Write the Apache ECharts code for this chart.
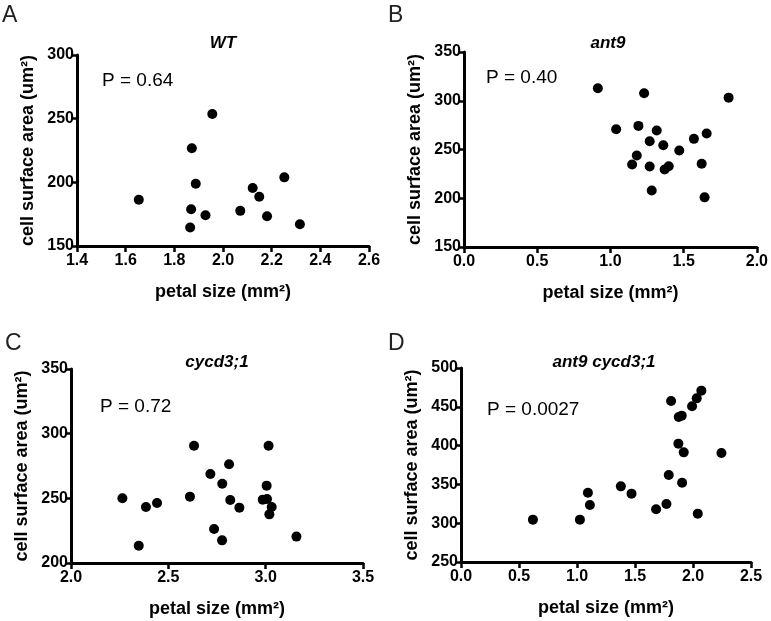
<!DOCTYPE html>
<html>
<head>
<meta charset="utf-8">
<script src="https://cdn.jsdelivr.net/npm/echarts@6/dist/echarts.min.js"></script>
<style>
  html, body { margin: 0; padding: 0; background: #fff; }
  #main { width: 771px; height: 621px; }
</style>
</head>
<body>
<div id="main"></div>
<script>
// petal size (mm2) vs cell surface area (um2), one pair of arrays per genotype
const wtPetal = [1.654, 1.872, 1.956, 1.888, 1.869, 1.928, 1.865, 2.071, 2.122, 2.149, 2.181, 2.252, 2.316]
const wtCell = [186.3, 226.8, 253.7, 198.9, 178.9, 174.2, 164.5, 177.6, 195.5, 188.7, 173.4, 203.9, 167.1]

const ant9Petal = [0.914, 1.230, 1.807, 1.039, 1.191, 1.316, 1.268, 1.361, 1.470, 1.570, 1.657, 1.180, 1.148, 1.268, 1.370, 1.398, 1.623, 1.282, 1.643]
const ant9Cell = [312.8, 307.7, 303.2, 270.8, 274.2, 269.5, 258.5, 254.4, 249.0, 260.9, 266.4, 243.9, 234.6, 232.6, 229.5, 232.9, 235.3, 208.0, 200.9]

const cycPetal = [2.264, 2.385, 2.442, 2.348, 2.611, 2.632, 2.716, 2.812, 2.777, 2.818, 2.865, 2.735, 2.776, 3.015, 3.005, 2.985, 3.007, 3.031, 3.019, 3.158]
const cycCell = [250.0, 243.3, 246.4, 213.4, 251.3, 290.7, 268.8, 276.3, 261.3, 248.7, 242.8, 226.3, 217.5, 290.7, 259.8, 249.0, 249.5, 243.3, 237.6, 220.4]

const dblPetal = [0.620, 1.025, 1.094, 1.111, 1.378, 1.470, 1.682, 1.771, 1.791, 1.906, 2.041, 1.874, 1.920, 2.245, 1.877, 1.903, 1.811, 1.992, 2.032, 2.072]
const dblCell = [304.6, 304.6, 339.3, 323.5, 347.5, 338.1, 317.9, 324.7, 362.1, 352.2, 312.3, 402.5, 391.3, 390.5, 436.9, 438.6, 457.5, 450.6, 460.9, 470.8]

const panelLetters = ['A', 'B', 'C', 'D']
const panelTitles = ['WT', 'ant9', 'cycd3;1', 'ant9 cycd3;1']
const pValues = ['P = 0.64', 'P = 0.40', 'P = 0.72', 'P = 0.0027']

const xRanges = [[1.4, 2.6, 0.2], [0, 2, 0.5], [2, 3.5, 0.5], [0, 2.5, 0.5]]
const yRanges = [[150, 300, 50], [150, 350, 50], [200, 350, 50], [250, 500, 50]]

const pairs = (xs, ys) => xs.map((x, i) => [x, ys[i]])
const seriesData = [
  pairs(wtPetal, wtCell),
  pairs(ant9Petal, ant9Cell),
  pairs(cycPetal, cycCell),
  pairs(dblPetal, dblCell)
]

const font = 'Liberation Sans, Arial, sans-serif'
const grids = [
  { left: 77, top: 55, width: 292, height: 191 },
  { left: 464, top: 52, width: 293, height: 195 },
  { left: 71, top: 369, width: 292, height: 194 },
  { left: 461, top: 368, width: 290, height: 194 }
]
// where the letter, title and P value sit for each panel
const letterPos = [[2, 4], [388, 4], [5, 332], [388, 332]]
const titlePos = [[223, 43], [608, 43], [217, 362], [604, 362]]
const pPos = [[102, 81], [486, 78], [100, 407], [487, 410]]

const axisLine = { lineStyle: { color: '#000', width: 3 } }
const axisTick = { length: 6, lineStyle: { color: '#000', width: 2.5 } }

const chart = echarts.init(document.getElementById('main'))

const graphic = []
for (let i = 0; i < 4; i++) {
  graphic.push({
    type: 'text', left: letterPos[i][0], top: letterPos[i][1],
    style: { text: panelLetters[i], font: '23px ' + font, fill: '#222' }
  })
  graphic.push({
    type: 'text', x: titlePos[i][0], y: titlePos[i][1],
    style: { text: panelTitles[i], font: 'italic bold 17px ' + font, fill: '#000', align: 'center', verticalAlign: 'middle' }
  })
  graphic.push({
    type: 'text', x: pPos[i][0], y: pPos[i][1],
    style: { text: pValues[i], font: '19px ' + font, fill: '#000', align: 'left', verticalAlign: 'middle' }
  })
}

chart.setOption({
  animation: false,
  backgroundColor: '#fff',
  grid: grids,
  xAxis: xRanges.map((r, i) => ({
    type: 'value',
    gridIndex: i,
    min: r[0],
    max: r[1],
    interval: r[2],
    name: 'petal size (mm²)',
    nameLocation: 'middle',
    nameGap: 37,
    nameTextStyle: { fontFamily: font, fontWeight: 'bold', fontSize: 18, color: '#000' },
    axisLine,
    axisTick,
    splitLine: { show: false },
    axisLabel: {
      fontFamily: font, fontWeight: 'bold', fontSize: 16, color: '#000', margin: 7,
      formatter: v => v.toFixed(1)
    }
  })),
  yAxis: yRanges.map((r, i) => ({
    type: 'value',
    gridIndex: i,
    min: r[0],
    max: r[1],
    interval: r[2],
    name: 'cell surface area (um²)',
    nameLocation: 'middle',
    nameGap: 40,
    nameTextStyle: { fontFamily: font, fontWeight: 'bold', fontSize: 18, color: '#000' },
    axisLine,
    axisTick,
    splitLine: { show: false },
    axisLabel: { fontFamily: font, fontWeight: 'bold', fontSize: 16, color: '#000', margin: 3 }
  })),
  series: seriesData.map((d, i) => ({
    type: 'scatter',
    xAxisIndex: i,
    yAxisIndex: i,
    data: d,
    symbol: 'circle',
    symbolSize: 10,
    itemStyle: { color: '#000', opacity: 1 }
  })),
  graphic
})
</script>
</body>
</html>
